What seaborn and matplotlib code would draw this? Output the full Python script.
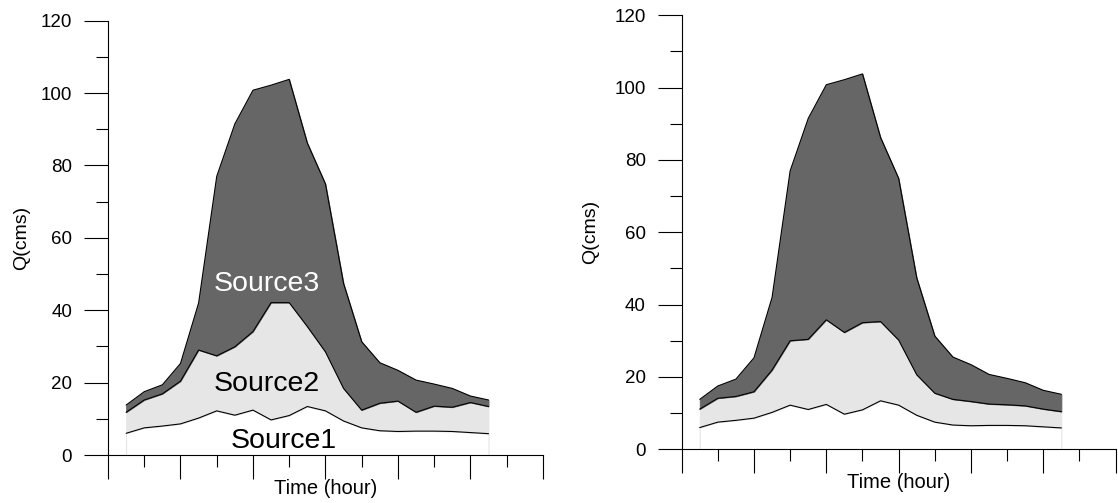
import matplotlib
matplotlib.use("Agg")
import matplotlib.pyplot as plt
from matplotlib import font_manager
import seaborn as sns
import numpy as np
import pandas as pd

# ---------------- data ----------------
hours = list(range(1, 22))
# cumulative boundaries (Q in cms)
source1_top = [6.0, 7.5, 8.0, 8.6, 10.2, 12.2, 11.0, 12.4, 9.7, 10.9, 13.4,
               12.2, 9.4, 7.5, 6.7, 6.5, 6.6, 6.6, 6.5, 6.2, 5.9]
source2_top_left = [11.8, 15.2, 16.9, 20.4, 29.0, 27.4, 29.9, 34.1, 42.1, 42.1, 35.5,
                    28.5, 18.4, 12.4, 14.3, 14.9, 11.8, 13.5, 13.2, 14.5, 13.4]
source2_top_right = [11.1, 14.1, 14.6, 15.9, 21.9, 30.0, 30.4, 35.8, 32.3, 35.0, 35.3,
                     30.2, 20.6, 15.5, 13.8, 13.2, 12.5, 12.3, 12.0, 11.1, 10.4]
total_flow = [13.8, 17.5, 19.4, 25.3, 42.0, 77.0, 91.5, 100.8, 102.2, 103.8, 86.2,
              74.9, 47.4, 31.3, 25.5, 23.4, 20.7, 19.6, 18.4, 16.3, 15.2]

source_labels = ["Source1", "Source2", "Source3"]
label_x = [9.68, 8.76, 8.76]
label_y = [1.85, 17.8, 45.4]
label_colors = ["black", "black", "white"]

x_label = "Time (hour)"
y_label = "Q(cms)"
y_major = [0, 20, 40, 60, 80, 100, 120]
y_minor = [10, 30, 50, 70, 90, 110]
x_major = [0, 4, 8, 12, 16, 20, 24]
x_minor = [2, 6, 10, 14, 18, 22]

# ---------------- style ----------------
sns.set_style("ticks")
plt.rcParams['font.family'] = ['Liberation Sans', 'DejaVu Sans']
plt.rcParams['text.color'] = 'black'
plt.rcParams['axes.labelcolor'] = 'black'

names = {f.name for f in font_manager.fontManager.ttflist}
if 'Liberation Sans Narrow' in names:
    src_family, src_size = ['Liberation Sans Narrow', 'Liberation Sans'], 24
else:
    src_family, src_size = ['Liberation Sans', 'DejaVu Sans'], 20.5

DARK = "#666666"
LIGHT = "#e6e6e6"

fig = plt.figure(figsize=(11.18, 5.03), dpi=100)
ax_l = fig.add_axes([0.0966, 0.0954, 0.389, 0.8634])
ax_r = fig.add_axes([0.6097, 0.1068, 0.3882, 0.8628])


def draw(ax, mid, with_labels):
    x = np.array(hours, dtype=float)
    s1 = np.array(source1_top)
    s2 = np.array(mid)
    tot = np.array(total_flow)
    ax.fill_between(x, 0, s1, facecolor="white", edgecolor="#dddddd", linewidth=0.6, zorder=1)
    ax.fill_between(x, s1, s2, facecolor=LIGHT, edgecolor=LIGHT, linewidth=0.6, zorder=1)
    ax.fill_between(x, s2, tot, facecolor=DARK, edgecolor=DARK, linewidth=0.6, zorder=1)
    df = pd.DataFrame({
        "hour": np.concatenate([x, x, x]),
        "Q": np.concatenate([s1, s2, tot]),
        "line": ["s1"] * len(x) + ["s2"] * len(x) + ["tot"] * len(x),
    })
    sns.lineplot(data=df, x="hour", y="Q", units="line", estimator=None,
                 color="black", linewidth=0.8, ax=ax, zorder=2, legend=False)

    ax.set_xlim(0, 24)
    ax.set_ylim(0, 120)
    ax.set_xticks(x_major)
    ax.set_xticks(x_minor, minor=True)
    ax.set_yticks(y_major)
    ax.set_yticks(y_minor, minor=True)
    ax.set_xticklabels([])
    ax.set_yticklabels([str(v) for v in y_major])
    ax.tick_params(axis="both", which="major", length=17.3, width=0.8, color="black",
                   labelcolor="black", direction="out", labelsize=13.5, pad=8.5)
    ax.tick_params(axis="both", which="minor", length=8.6, width=0.8, color="black",
                   direction="out")
    for sp in ["top", "right"]:
        ax.spines[sp].set_visible(False)
    for sp in ["left", "bottom"]:
        ax.spines[sp].set_linewidth(0.8)
        ax.spines[sp].set_color("black")
        ax.spines[sp].set_zorder(3)

    ax.set_xlabel(x_label, fontsize=14.5, color="black")
    ax.set_ylabel(y_label, fontsize=14, color="black")
    ax.xaxis.set_label_coords(0.5, -0.055)

    if with_labels:
        for t, lx, ly, c in zip(source_labels, label_x, label_y, label_colors):
            ax.text(lx, ly, t, color=c, fontsize=src_size, family=src_family,
                    ha="center", va="baseline", zorder=4)


draw(ax_l, source2_top_left, True)
draw(ax_r, source2_top_right, False)
ax_l.yaxis.set_label_coords(-0.179, 0.5)
ax_r.yaxis.set_label_coords(-0.19, 0.5)

fig.savefig("out.png", dpi=100)
